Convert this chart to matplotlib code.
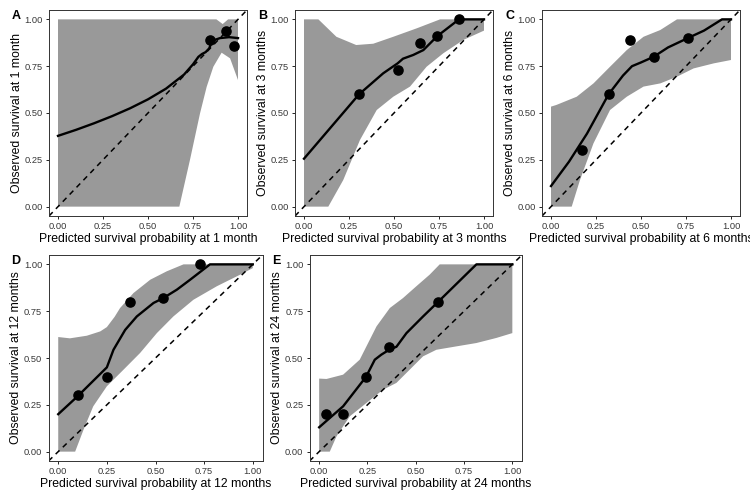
from matplotlib import pyplot as plt
import numpy as np

plt.rcParams['font.family'] = ['Liberation Sans', 'DejaVu Sans']

labels = ['A', 'B', 'C', 'D', 'E']
months = ['1 month', '3 months', '6 months', '12 months', '24 months']

# observed points (predicted, observed)
pts_x = [
    [0.845, 0.933, 0.98],
    [0.306, 0.522, 0.644, 0.741, 0.861],
    [0.17, 0.32, 0.44, 0.57, 0.76],
    [0.101, 0.253, 0.37, 0.538, 0.73],
    [0.034, 0.122, 0.243, 0.364, 0.616],
]
pts_y = [
    [0.89, 0.94, 0.858],
    [0.60, 0.728, 0.875, 0.911, 1.0],
    [0.30, 0.60, 0.89, 0.80, 0.90],
    [0.30, 0.40, 0.80, 0.82, 1.0],
    [0.20, 0.20, 0.40, 0.559, 0.80],
]

# smoothed calibration curve
line_x = [
    [0, 0.1, 0.2, 0.3, 0.4, 0.5, 0.6, 0.7, 0.75, 0.78, 0.8, 0.82, 0.84, 0.85, 0.87, 0.9, 0.95, 1.0],
    [0, 0.306, 0.44, 0.52, 0.55, 0.607, 0.663, 0.741, 0.861, 1.0],
    [0, 0.1, 0.2, 0.32, 0.4, 0.45, 0.5, 0.57, 0.65, 0.76, 0.85, 0.95, 1.0],
    [0, 0.1, 0.25, 0.284, 0.344, 0.404, 0.49, 0.54, 0.61, 0.678, 0.78, 1.0],
    [0, 0.124, 0.243, 0.288, 0.322, 0.364, 0.4, 0.452, 0.538, 0.616, 0.814, 1.0],
]
line_y = [
    [0.378, 0.41, 0.445, 0.483, 0.525, 0.573, 0.63, 0.705, 0.76, 0.80, 0.815, 0.825, 0.845, 0.87, 0.89, 0.90, 0.905, 0.90],
    [0.256, 0.60, 0.712, 0.765, 0.79, 0.81, 0.836, 0.911, 1.0, 1.0],
    [0.11, 0.24, 0.39, 0.60, 0.70, 0.75, 0.77, 0.80, 0.85, 0.90, 0.94, 1.0, 1.0],
    [0.20, 0.296, 0.45, 0.544, 0.65, 0.722, 0.794, 0.82, 0.865, 0.918, 1.0, 1.0],
    [0.13, 0.242, 0.40, 0.491, 0.518, 0.545, 0.56, 0.633, 0.722, 0.80, 1.0, 1.0],
]

# confidence band, upper and lower edges
band_hi_x = [
    [0, 0.88, 0.915, 0.945, 1.0],
    [0, 0.08, 0.18, 0.29, 0.385, 0.496, 0.626, 0.756, 1.0],
    [0, 0.03, 0.143, 0.236, 0.328, 0.421, 0.514, 0.607, 0.70, 1.0],
    [0, 0.06, 0.147, 0.216, 0.25, 0.29, 0.318, 0.387, 0.473, 0.558, 0.644, 1.0],
    [0, 0.038, 0.124, 0.21, 0.297, 0.366, 0.434, 0.503, 0.572, 0.624, 1.0],
]
band_hi_y = [
    [1.0, 1.0, 0.975, 1.0, 1.0],
    [1.0, 1.0, 0.907, 0.863, 0.87, 0.907, 0.952, 1.0, 1.0],
    [0.534, 0.543, 0.587, 0.658, 0.747, 0.836, 0.907, 0.943, 1.0, 1.0],
    [0.612, 0.605, 0.619, 0.642, 0.665, 0.72, 0.767, 0.847, 0.918, 0.963, 1.0, 1.0],
    [0.39, 0.388, 0.411, 0.491, 0.669, 0.767, 0.82, 0.883, 0.945, 1.0, 1.0],
]
band_lo_x = [
    [0, 0.674, 0.733, 0.789, 0.826, 0.863, 0.909, 0.956, 1.0],
    [0, 0.135, 0.218, 0.311, 0.404, 0.496, 0.589, 0.681, 0.774, 0.885, 1.0],
    [0, 0.115, 0.161, 0.236, 0.328, 0.421, 0.514, 0.607, 0.70, 0.792, 0.904, 1.0],
    [0, 0.087, 0.13, 0.18, 0.25, 0.336, 0.421, 0.507, 0.592, 0.695, 0.815, 0.935, 1.0],
    [0, 0.055, 0.09, 0.159, 0.245, 0.331, 0.40, 0.469, 0.538, 0.607, 0.71, 0.814, 0.917, 1.0],
]
band_lo_y = [
    [0, 0, 0.249, 0.498, 0.64, 0.747, 0.822, 0.792, 0.676],
    [0, 0, 0.142, 0.356, 0.516, 0.587, 0.641, 0.747, 0.819, 0.89, 0.94],
    [0, 0, 0.142, 0.338, 0.516, 0.587, 0.641, 0.658, 0.694, 0.738, 0.765, 0.783],
    [0, 0, 0.117, 0.242, 0.349, 0.438, 0.527, 0.633, 0.722, 0.811, 0.883, 0.945, 0.98],
    [0, 0, 0.082, 0.189, 0.26, 0.331, 0.367, 0.438, 0.509, 0.544, 0.562, 0.58, 0.607, 0.633],
]

W, H = 750, 500
# axes boxes in pixels: left, right, top, bottom
boxes = [
    (49, 247, 10, 216),
    (295, 493, 10, 216),
    (542, 740, 10, 216),
    (48.5, 262.5, 255, 461),
    (309.5, 522, 255, 461),
]

fig = plt.figure(figsize=(W / 100, H / 100), dpi=100)

for i in range(5):
    l, r, t, b = boxes[i]
    ax = fig.add_axes([l / W, 1 - b / H, (r - l) / W, (b - t) / H])

    # grey confidence band
    poly_x = list(band_hi_x[i]) + list(band_lo_x[i][::-1])
    poly_y = list(band_hi_y[i]) + list(band_lo_y[i][::-1])
    ax.fill(poly_x, poly_y, color='#999999', lw=0, zorder=1)

    ax.axline((0, 0), slope=1, color='black', ls=(0, (3.5, 3)), lw=1.1, zorder=2)
    ax.plot(line_x[i], line_y[i], color='black', lw=1.7, zorder=3)
    ax.plot(pts_x[i], pts_y[i], 'o', color='black', ms=6.6, zorder=4)

    ax.set_xlim(-0.05, 1.05)
    ax.set_ylim(-0.05, 1.05)
    ticks = [0, 0.25, 0.5, 0.75, 1.0]
    ax.set_xticks(ticks, ['0.00', '0.25', '0.50', '0.75', '1.00'])
    ax.set_yticks(ticks, ['0.00', '0.25', '0.50', '0.75', '1.00'])
    ax.tick_params(labelsize=6.7, labelcolor='#383838', length=2.5, width=0.6, pad=2)
    for s in ax.spines.values():
        s.set_linewidth(0.7)
        s.set_color('#333333')

    ax.set_xlabel('Predicted survival probability at ' + months[i], fontsize=8.8, labelpad=1)
    ax.set_ylabel('Observed survival at ' + months[i], fontsize=8.8, labelpad=1)
    ax.text((l - 37) / W, 1 - (t + 6) / H, labels[i], transform=fig.transFigure,
            fontsize=9, fontweight='bold', ha='left', va='center')

plt.savefig('out.png', dpi=100)
plt.close()
